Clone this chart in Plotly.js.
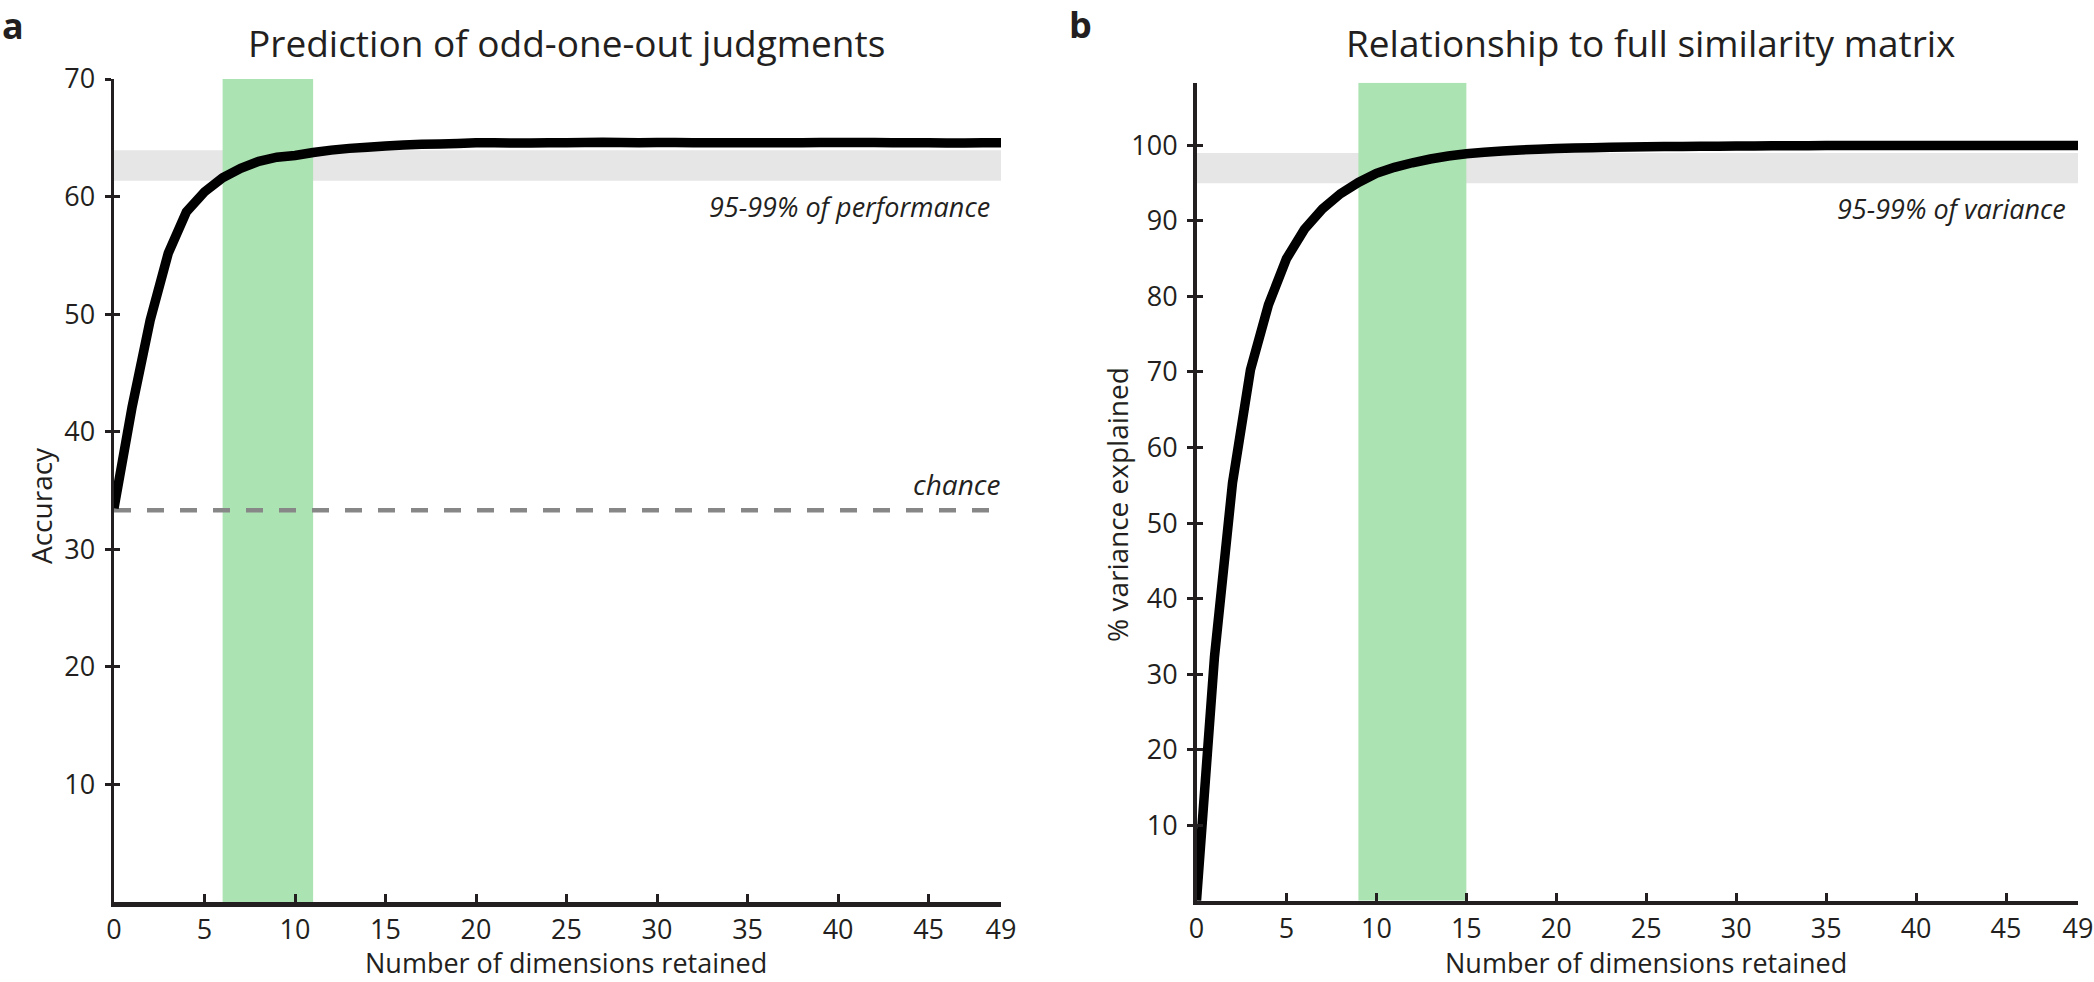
<!DOCTYPE html>
<html>
<head>
<meta charset="utf-8">
<script src="https://cdn.plot.ly/plotly-3.0.1.min.js"></script>
<style>html,body{margin:0;padding:0;background:#fff;}#chart{width:2094px;height:982px;}</style>
</head>
<body>
<div id="chart"></div>
<script>
// ---------- data ----------
const dims = [0,1,2,3,4,5,6,7,8,9,10,11,12,13,14,15,16,17,18,19,20,21,22,23,24,25,26,27,28,29,30,31,32,33,34,35,36,37,38,39,40,41,42,43,44,45,46,47,48,49];
const accuracy = [33.5,42.1,49.5,55.2,58.7,60.4,61.6,62.4,63.0,63.35,63.5,63.75,63.95,64.1,64.2,64.3,64.38,64.45,64.48,64.52,64.58,64.58,64.55,64.56,64.57,64.58,64.6,64.62,64.6,64.58,64.6,64.59,64.58,64.57,64.57,64.58,64.57,64.58,64.58,64.59,64.6,64.6,64.59,64.58,64.58,64.57,64.56,64.56,64.57,64.57];
const variance = [0,32.3,55.3,70.3,78.9,85.0,88.9,91.6,93.6,95.1,96.3,97.1,97.7,98.2,98.6,98.9,99.1,99.25,99.4,99.5,99.58,99.65,99.7,99.74,99.78,99.81,99.84,99.86,99.88,99.9,99.92,99.93,99.94,99.95,99.96,99.97,99.97,99.98,99.98,99.98,99.99,99.99,99.99,99.99,100,100,100,100,100,100];
const chanceLevel = 33.33;
const accGreenBand = [6, 11];
const accGrayBand = [61.35, 63.95];
const varGreenBand = [9, 15];
const varGrayBand = [95, 99];
const xTickVals = [0,5,10,15,20,25,30,35,40,45,49];
const accTickVals = [10,20,30,40,50,60,70];
const varTickVals = [10,20,30,40,50,60,70,80,90,100];
const accRange = [0, 70];
const varRange = [0, 108.3];
const xRange = [0, 49];
const titles = ['Prediction of odd-one-out judgments', 'Relationship to full similarity matrix'];
const panelLabels = ['a', 'b'];
const xTitle = 'Number of dimensions retained';
const yTitles = ['Accuracy', '% variance explained'];
const bandLabels = ['95-99% of performance', '95-99% of variance'];
const chanceLabel = 'chance';

// ---------- styles ----------
const FONT = 'Open Sans, Noto Sans, sans-serif';
const INK = '#231f20';
const GREEN = '#abe3b2';
const GRAY = '#e6e6e6';

const W = 2094, H = 982;
const px = v => v / W;
const py = v => (H - v) / H;

const traces = [
  {x: [xRange[0], xRange[1]], y: [chanceLevel, chanceLevel], xaxis: 'x', yaxis: 'y', mode: 'lines',
   line: {color: '#878787', width: 4.5, dash: '17px,16px'}, hoverinfo: 'skip'},
  {x: dims, y: accuracy, xaxis: 'x', yaxis: 'y', mode: 'lines',
   line: {color: '#000', width: 9.5, simplify: false}, hoverinfo: 'skip'},
  {x: dims, y: variance, xaxis: 'x2', yaxis: 'y2', mode: 'lines',
   line: {color: '#000', width: 9.5, simplify: false}, hoverinfo: 'skip'},
  // invisible traces to carry the inner-tick overlay axes
  {x: [0], y: [null], xaxis: 'x', yaxis: 'y3', mode: 'lines', hoverinfo: 'skip', showlegend: false},
  {x: [0], y: [null], xaxis: 'x2', yaxis: 'y4', mode: 'lines', hoverinfo: 'skip', showlegend: false}
];

const baseX = {
  range: xRange, tickvals: xTickVals, ticktext: xTickVals.map(String),
  showline: true, linewidth: 4.5, linecolor: INK, mirror: false,
  ticks: 'inside', ticklen: 8, tickwidth: 3, tickcolor: INK,
  tickfont: {family: FONT, size: 27, color: INK},
  showgrid: false, zeroline: false, fixedrange: true, ticklabelstandoff: 0
};
const baseY = {
  showline: true, linewidth: 3.5, linecolor: INK,
  ticks: 'outside', ticklen: 6, tickwidth: 3, tickcolor: INK,
  tickfont: {family: FONT, size: 27, color: INK},
  showgrid: false, zeroline: false, fixedrange: true, ticklabelstandoff: 4
};
const innerY = {
  showline: false, ticks: 'inside', ticklen: 6, tickwidth: 3, tickcolor: INK,
  showticklabels: false, showgrid: false, zeroline: false, fixedrange: true
};

const xDomA = [px(114), px(1001)];
const xDomB = [px(1196.5), px(2078)];
const yDomA = [py(902), py(79)];
const yDomB = [py(900.7), py(82.7)];

const layout = {
  width: W, height: H,
  margin: {l: 0, r: 0, t: 0, b: 0},
  paper_bgcolor: '#fff', plot_bgcolor: 'rgba(0,0,0,0)',
  showlegend: false,
  xaxis: Object.assign({}, baseX, {domain: xDomA, anchor: 'y'}),
  yaxis: Object.assign({}, baseY, {domain: yDomA, anchor: 'x', range: accRange, tickvals: accTickVals}),
  yaxis3: Object.assign({}, innerY, {overlaying: 'y', anchor: 'x', range: accRange, tickvals: accTickVals}),
  xaxis2: Object.assign({}, baseX, {domain: xDomB, anchor: 'y2'}),
  yaxis2: Object.assign({}, baseY, {domain: yDomB, anchor: 'x2', range: varRange, tickvals: varTickVals}),
  yaxis4: Object.assign({}, innerY, {overlaying: 'y2', anchor: 'x2', range: varRange, tickvals: varTickVals}),
  shapes: [
    {type: 'rect', xref: 'x', yref: 'y', x0: xRange[0], x1: xRange[1], y0: accGrayBand[0], y1: accGrayBand[1],
     fillcolor: GRAY, line: {width: 0}, layer: 'below'},
    {type: 'rect', xref: 'x', yref: 'y', x0: accGreenBand[0], x1: accGreenBand[1], y0: accRange[0], y1: accRange[1],
     fillcolor: GREEN, line: {width: 0}, layer: 'below'},
    {type: 'rect', xref: 'x2', yref: 'y2', x0: xRange[0], x1: xRange[1], y0: varGrayBand[0], y1: varGrayBand[1],
     fillcolor: GRAY, line: {width: 0}, layer: 'below'},
    {type: 'rect', xref: 'x2', yref: 'y2', x0: varGreenBand[0], x1: varGreenBand[1], y0: varRange[0], y1: varRange[1],
     fillcolor: GREEN, line: {width: 0}, layer: 'below'}
  ],
  annotations: [
    {text: titles[0], xref: 'paper', yref: 'paper', x: px(566), y: py(43), showarrow: false,
     xanchor: 'center', yanchor: 'middle', font: {family: FONT, size: 37, color: INK}},
    {text: titles[1], xref: 'paper', yref: 'paper', x: px(1651), y: py(43), showarrow: false,
     xanchor: 'center', yanchor: 'middle', font: {family: FONT, size: 37, color: INK}},
    {text: '<b>' + panelLabels[0] + '</b>', xref: 'paper', yref: 'paper', x: px(0), y: py(25), showarrow: false,
     xanchor: 'left', yanchor: 'middle', font: {family: FONT, size: 36, color: INK}},
    {text: '<b>' + panelLabels[1] + '</b>', xref: 'paper', yref: 'paper', x: px(1067), y: py(24), showarrow: false,
     xanchor: 'left', yanchor: 'middle', font: {family: FONT, size: 36, color: INK}},
    {text: xTitle, xref: 'paper', yref: 'paper', x: px(566), y: 0, showarrow: false,
     xanchor: 'center', yanchor: 'bottom', borderpad: 0, font: {family: FONT, size: 27, color: INK}},
    {text: xTitle, xref: 'paper', yref: 'paper', x: px(1646), y: 0, showarrow: false,
     xanchor: 'center', yanchor: 'bottom', borderpad: 0, font: {family: FONT, size: 27, color: INK}},
    {text: yTitles[0], xref: 'paper', yref: 'paper', x: px(41), y: py(506), showarrow: false, textangle: -90,
     xanchor: 'center', yanchor: 'middle', font: {family: FONT, size: 28, color: INK}},
    {text: yTitles[1], xref: 'paper', yref: 'paper', x: px(1117), y: py(505), showarrow: false, textangle: -90,
     xanchor: 'center', yanchor: 'middle', font: {family: FONT, size: 28, color: INK}},
    {text: '<i>' + bandLabels[0] + '</i>', xref: 'paper', yref: 'paper', x: px(992), y: py(207), showarrow: false,
     xanchor: 'right', yanchor: 'middle', font: {family: FONT, size: 27, color: INK}},
    {text: '<i>' + bandLabels[1] + '</i>', xref: 'paper', yref: 'paper', x: px(2068), y: py(208), showarrow: false,
     xanchor: 'right', yanchor: 'middle', font: {family: FONT, size: 27, color: INK}},
    {text: '<i>' + chanceLabel + '</i>', xref: 'paper', yref: 'paper', x: px(1002), y: py(484), showarrow: false,
     xanchor: 'right', yanchor: 'middle', font: {family: FONT, size: 28, color: INK}}
  ]
};

Plotly.newPlot('chart', traces, layout, {displayModeBar: false, staticPlot: true});
</script>
</body>
</html>
